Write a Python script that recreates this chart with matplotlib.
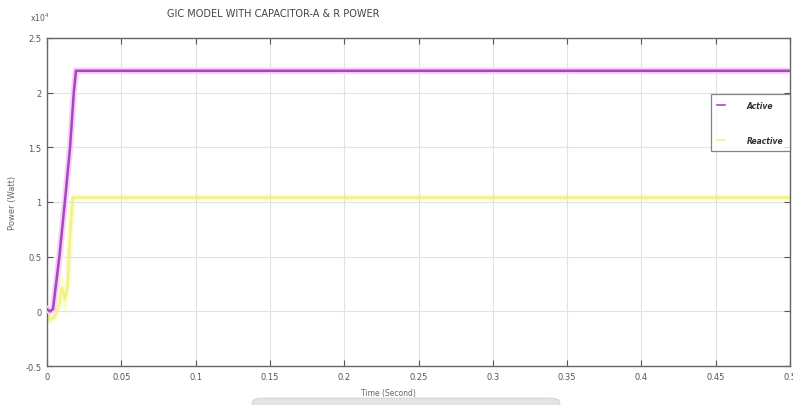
import matplotlib
matplotlib.use("Agg")
import matplotlib.pyplot as plt
from matplotlib.patches import FancyBboxPatch

# Simulation traces (power in units of 1e4 W)
t_active = [0.0, 0.002, 0.004, 0.0083, 0.012, 0.0155, 0.018, 0.0195, 0.5]
p_active = [0.02, 0.0, 0.02, 0.5, 1.0, 1.5, 2.0, 2.2, 2.2]

t_reactive = [0.0, 0.002, 0.005, 0.008, 0.010, 0.012, 0.014, 0.0155, 0.0173, 0.5]
p_reactive = [0.0, -0.08, -0.05, 0.05, 0.22, 0.1, 0.25, 0.7, 1.04, 1.04]

x_ticks = [0, 0.05, 0.1, 0.15, 0.2, 0.25, 0.3, 0.35, 0.4, 0.45, 0.5]
x_labels = ["0", "0.05", "0.1", "0.15", "0.2", "0.25", "0.3", "0.35", "0.4", "0.45", "0.5"]
y_ticks = [-0.5, 0, 0.5, 1, 1.5, 2, 2.5]
y_labels = ["-0.5", "0", "0.5", "1", "1.5", "2", "2.5"]

fig = plt.figure(figsize=(7.93, 4.06), dpi=100)
ax = fig.add_axes([0.0593, 0.096, 0.9369, 0.808])

# soft glow under each trace, then the trace itself
ax.plot(t_active, p_active, color="#f6d0f6", lw=4.5, solid_joinstyle="miter", zorder=3)
ax.plot(t_active, p_active, color="#a845c0", lw=1.8, solid_joinstyle="miter", zorder=4,
        label="Active")
ax.plot(t_reactive, p_reactive, color="#fcfcd0", lw=4.5, solid_joinstyle="miter", zorder=1)
ax.plot(t_reactive, p_reactive, color="#f2f088", lw=1.8, solid_joinstyle="miter", zorder=2,
        label="Reactive")

ax.set_xlim(0, 0.5)
ax.set_ylim(-0.5, 2.5)
ax.set_xticks(x_ticks)
ax.set_xticklabels(x_labels)
ax.set_yticks(y_ticks)
ax.set_yticklabels(y_labels)
ax.tick_params(direction="in", length=4, width=0.8, colors="#555555",
               labelsize=6, labelcolor="#555555", top=True, right=True, pad=4)
ax.grid(True, color="#e2e2e2", lw=0.8)
for s in ax.spines.values():
    s.set_color("#666666")
    s.set_linewidth(1.0)

leg = ax.legend(loc="upper right", bbox_to_anchor=(1.0, 0.83), borderaxespad=0.0,
                frameon=True, fancybox=False, edgecolor="#666666",
                prop={"style": "italic", "weight": "bold", "size": 5.5},
                handlelength=1.0, handletextpad=2.8, labelspacing=3.4,
                borderpad=0.9)
leg.get_frame().set_linewidth(0.9)
for txt in leg.get_texts():
    txt.set_color("#333333")
for line in leg.get_lines():
    line.set_linewidth(1.2)

fig.text(0.345, 0.965, "GIC MODEL WITH CAPACITOR-A & R POWER", ha="center", va="center",
         fontsize=7, color="#444444")
fig.text(0.038, 0.955, r"x10$^{4}$", ha="left", va="center", fontsize=5.5, color="#555555")
fig.text(0.016, 0.5, "Power (Watt)", rotation=90, ha="center", va="center",
         fontsize=6, color="#666666")
fig.text(0.49, 0.032, "Time (Second)", ha="center", va="center", fontsize=5.5,
         color="#666666")

# light grey tab along the bottom edge
tab = FancyBboxPatch((0.318, -0.02), 0.388, 0.037, boxstyle="round,pad=0,rounding_size=0.012",
                     transform=fig.transFigure, facecolor="#e4e4e4", edgecolor="#d0d0d0",
                     lw=0.6)
fig.patches.append(tab)

fig.savefig("out.png", dpi=100)
